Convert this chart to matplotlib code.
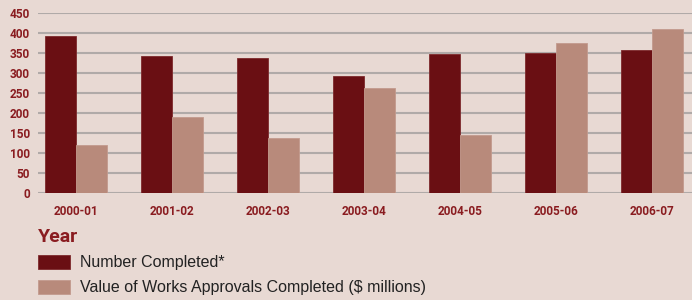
import matplotlib
matplotlib.use("Agg")
import matplotlib.pyplot as plt
import numpy as np

years = ["2000-01", "2001-02", "2002-03", "2003-04", "2004-05", "2005-06", "2006-07"]
number_completed = [392, 341, 336, 291, 347, 348, 357]
value_completed = [120, 189, 138, 262, 144, 375, 408]
yticks = [0, 50, 100, 150, 200, 250, 300, 350, 400, 450]

BG = "#E8D9D3"
DARK = "#6A0F13"
LIGHT = "#B88A7B"
TICKRED = "#8A1C20"
GRID = "#B0AAA8"
narrow = ["Roboto", "DejaVu Sans"]
regular = ["Liberation Sans", "DejaVu Sans"]

fig = plt.figure(figsize=(6.92, 3.0), dpi=100, facecolor=BG)
ax = fig.add_axes([38 / 692, 1 - 192.7 / 300, (692 - 38) / 692, 180 / 300])
ax.set_facecolor(BG)

x = np.arange(len(years))
w = 0.325
b1 = ax.bar(x - w / 2, number_completed, w, color=DARK, edgecolor="#7E2A2C", linewidth=0.6,
            label="Number Completed*", zorder=3)
b2 = ax.bar(x + w / 2, value_completed, w, color=LIGHT, edgecolor="#C39A8D", linewidth=0.6,
            label="Value of Works Approvals Completed ($ millions)", zorder=3)

ax.set_xlim(-0.396, 6.417)
ax.set_ylim(0, 450)
ax.set_yticks(yticks)
ax.set_xticks(x)
ax.set_xticklabels(years)
ax.yaxis.grid(True, color=GRID, linewidth=1.5, zorder=0)
ax.set_axisbelow(True)
for s in ax.spines.values():
    s.set_visible(False)
ax.tick_params(axis="both", length=0, colors=TICKRED)
ax.tick_params(axis="y", pad=6)
ax.tick_params(axis="x", pad=9)
for lab in ax.get_yticklabels() + ax.get_xticklabels():
    lab.set_fontfamily(narrow)
    lab.set_fontweight("bold")
    lab.set_fontsize(8.5)
    lab.set_color(TICKRED)

fig.text(38 / 692, 1 - 242 / 300, "Year", fontfamily=narrow, fontweight="bold",
         fontsize=14, color=TICKRED, ha="left", va="baseline")

leg = fig.legend(handles=[b1, b2], loc="upper left", bbox_to_anchor=(38 / 692, 1 - 255 / 300),
                 frameon=False, prop={"family": regular, "size": 11.5},
                 handlelength=2.0, handleheight=0.95, handletextpad=0.6,
                 labelspacing=0.6, borderpad=0, borderaxespad=0)
for t in leg.get_texts():
    t.set_color("#222222")

fig.savefig("out.png", dpi=100, facecolor=BG)
